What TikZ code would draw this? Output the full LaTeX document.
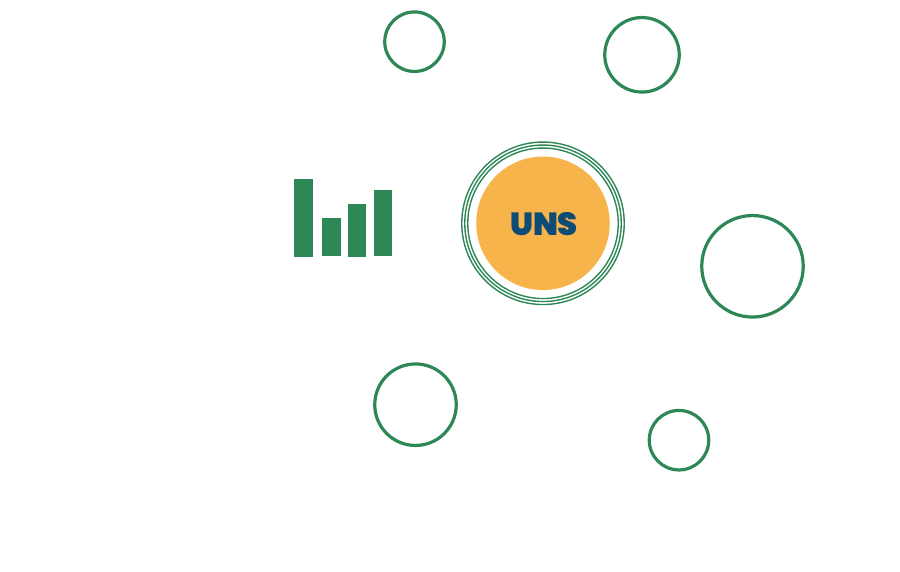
\documentclass[tikz,border=0pt]{standalone}
\usepackage{fontspec}
\newfontfamily\unsfont{Poppins Black}
\definecolor{ringgreen}{HTML}{2E8757}
\definecolor{disc}{HTML}{F7B44A}
\definecolor{unsblue}{HTML}{0F4C75}
\tikzset{
  x=1pt,y=-1pt,
  ring/.style={circle,draw=ringgreen,line width=3.2pt,fill=none,inner sep=0pt,outer sep=0pt},
  thinring/.style={circle,draw=ringgreen,line width=1.4pt,fill=none,inner sep=0pt,outer sep=0pt},
  barshape/.style={fill=ringgreen,draw=none}
}
\begin{document}
\begin{tikzpicture}
\useasboundingbox (0,0) rectangle (900,572);
\fill[white] (0,0) rectangle (900,572);
\node[ring,minimum size=59.5pt] (c1) at (414.5,41.7) {};
\node[ring,minimum size=74.5pt] (c2) at (642,54.8) {};
\node[ring,minimum size=101.5pt] (c3) at (752.5,266.3) {};
\node[ring,minimum size=81.5pt] (c4) at (415.5,404.7) {};
\node[ring,minimum size=59.5pt] (c5) at (679,440.2) {};
\node[thinring,minimum size=162.5pt] (r1) at (543,223.3) {};
\node[thinring,minimum size=156.5pt] (r2) at (543,223.3) {};
\node[thinring,minimum size=150.5pt] (r3) at (543,223.3) {};
\node[circle,fill=disc,minimum size=133.5pt,inner sep=0pt] (disc) at (543,223.3) {};
\node[text=unsblue,font=\unsfont\fontsize{32}{32}\selectfont,inner sep=0pt] (uns) at (544,224) {UNS};
\fill[barshape] (294.3,179) rectangle (313,257.5);
\fill[barshape] (322.2,218.5) rectangle (341,256.5);
\fill[barshape] (347.7,204) rectangle (366.3,257);
\fill[barshape] (373.5,189.7) rectangle (392.3,256.5);
\end{tikzpicture}
\end{document}
